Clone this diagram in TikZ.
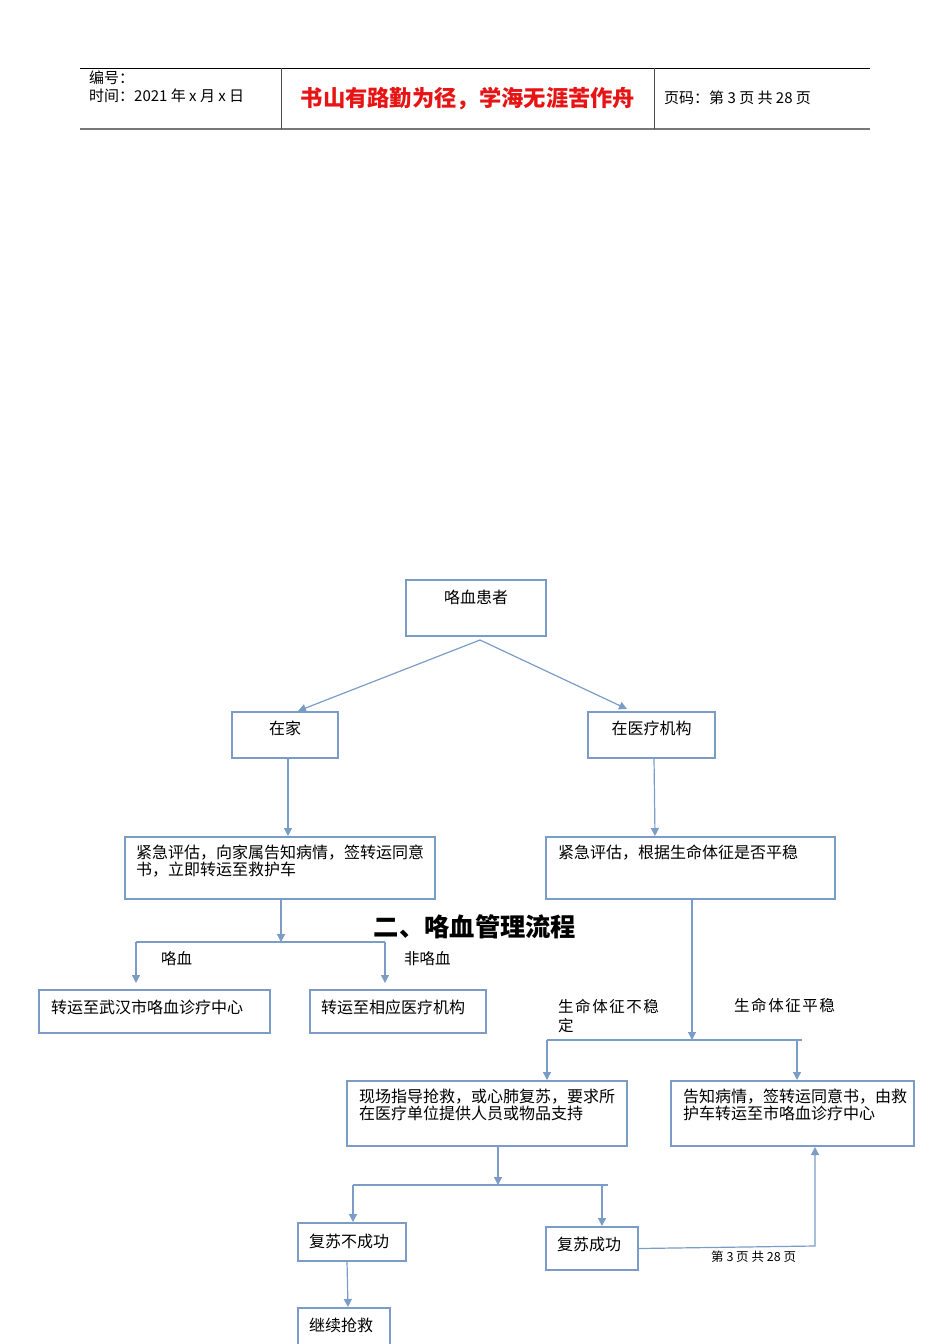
\documentclass[tikz,border=0pt]{standalone}
\usepackage{fontspec}
\newfontfamily\cjk{Noto Sans CJK SC}
\usetikzlibrary{arrows.meta,calc}
\definecolor{lineblue}{RGB}{122,156,198}
\definecolor{hdrgray}{RGB}{120,120,120}
\definecolor{hdrred}{RGB}{230,20,20}
\tikzset{
  box/.style={draw=lineblue, line width=2pt, rectangle, inner sep=0pt},
  conn/.style={draw=lineblue, line width=1.2pt},
  arr/.style={conn, -{Triangle[length=8pt,width=8pt]}},
  txt/.style={inner sep=0pt, anchor=west, font=\cjk\fontsize{16}{17}\selectfont, align=left},
  lbl/.style={inner sep=0pt, anchor=west, font=\cjk\fontsize{15.5}{19}\selectfont, align=left},
  hdr/.style={inner sep=0pt, anchor=west, font=\cjk\fontsize{15}{18}\selectfont},
}
\begin{document}
\begin{tikzpicture}[x=1pt,y=-1pt]
\useasboundingbox (0,0) rectangle (950,1344);
% header
\draw[black, line width=0.8pt] (80,68) -- (870,68);
\draw[hdrgray, line width=2pt] (80,129) -- (870,129);
\draw[black!70, line width=0.8pt] (281,68) -- (281,129);
\draw[black!70, line width=0.8pt] (654,68) -- (654,129);
\node[hdr] (h1) at (89,78) {编号：};
\node[hdr] (h2) at (89,96) {时间：2021 年 x 月 x 日};
\node[inner sep=0pt, text=hdrred, font=\cjk\bfseries\fontsize{22.3}{24}\selectfont] (h3) at (468,99) {书山有路勤为径，学海无涯苦作舟};
\node[hdr] (h4) at (664,98) {页码：第 3 页 共 28 页};

% boxes
\node[box, minimum width=140pt, minimum height=56pt] (p) at (476,608) {};
\node[txt, anchor=center] (pt) at (476,597) {咯血患者};
\node[box, minimum width=106pt, minimum height=46pt] (home) at (285,735) {};
\node[txt, anchor=center] (homet) at (285,728) {在家};
\node[box, minimum width=127pt, minimum height=46pt] (inst) at (651.5,735) {};
\node[txt, anchor=center] (instt) at (651.5,728) {在医疗机构};
\node[box, minimum width=310pt, minimum height=62pt] (evl) at (280,868) {};
\node[txt, anchor=north west] (evlt) at (136,845) {紧急评估，向家属告知病情，签转运同意\\书，立即转运至救护车};
\node[box, minimum width=289pt, minimum height=62pt] (evr) at (690.5,868) {};
\node[txt] (evrt) at (558,853) {紧急评估，根据生命体征是否平稳};
\node[box, minimum width=231pt, minimum height=43pt] (wh) at (154.5,1011.5) {};
\node[txt] (wht) at (51,1007) {转运至武汉市咯血诊疗中心};
\node[box, minimum width=176pt, minimum height=43pt] (oth) at (398,1011.5) {};
\node[txt] (otht) at (321,1007) {转运至相应医疗机构};
\node[box, minimum width=280pt, minimum height=65pt] (resc) at (487,1113.5) {};
\node[txt, anchor=north west] (resct) at (359,1089) {现场指导抢救，或心肺复苏，要求所\\在医疗单位提供人员或物品支持};
\node[box, minimum width=243pt, minimum height=65pt] (tell) at (792.5,1113.5) {};
\node[txt, anchor=north west] (tellt) at (683,1089) {告知病情，签转运同意书，由救\\护车转运至市咯血诊疗中心};
\node[box, minimum width=108pt, minimum height=38pt] (fail) at (352,1242) {};
\node[txt] (failt) at (309,1241) {复苏不成功};
\node[box, minimum width=92pt, minimum height=43pt] (succ) at (592,1248.5) {};
\node[txt] (succt) at (557,1244) {复苏成功};
\node[box, minimum width=92pt, minimum height=40pt] (cont) at (344,1328) {};
\node[txt] (contt) at (309,1325) {继续抢救};

% title and labels
\node[inner sep=0pt, font=\cjk\bfseries\fontsize{25.3}{27}\selectfont] (title) at (475,927) {二、咯血管理流程};
\node[lbl] (l1) at (161,959) {咯血};
\node[lbl] (l2) at (404,959) {非咯血};
\node[lbl, anchor=north west, font=\cjk\fontsize{15.5}{19}\selectfont\addfontfeatures{LetterSpace=10}] (l3) at (558,999) {生命体征不稳\\定};
\node[lbl, font=\cjk\fontsize{15.5}{19}\selectfont\addfontfeatures{LetterSpace=10}] (l4) at (734,1006) {生命体征平稳};
\node[inner sep=0pt, anchor=west, font=\cjk\fontsize{12.5}{14}\selectfont] (foot) at (711,1257) {第 3 页 共 28 页};

% connectors
\coordinate (ps) at (480,640);
\coordinate (homein) at (298,711);
\coordinate (instin) at (627,709);
\draw[arr] (ps) -- (homein);
\draw[arr] (ps) -- (instin);
\draw[arr] (288,758) -- (288,836);
\draw[arr] (654,758) -- (655,836);
% left branch
\coordinate (lj) at (281,942);
\draw[arr] (281,899) -- (lj);
\draw[conn] (136,942) -- (385,942);
\draw[arr] (136,942) -- (136,983);
\draw[arr] (385,942) -- (385,983);
% right branch
\coordinate (rj) at (692,1040);
\draw[arr] (692,899) -- (rj);
\draw[conn] (547,1040) -- (802,1040);
\draw[arr] (547,1040) -- (547,1080);
\draw[arr] (797,1040) -- (797,1080);
% rescue branch
\coordinate (sj) at (498,1185);
\draw[arr] (498,1146) -- (sj);
\draw[conn] (353,1185) -- (608,1185);
\draw[arr] (353,1185) -- (353,1222);
\draw[arr] (602,1185) -- (602,1226);
\draw[arr] (347,1261) -- (348,1307);
\coordinate (corner) at (815,1246);
\coordinate (tellin) at (815,1147);
\draw[arr] (succ.east) -- (corner) -- (tellin);
\end{tikzpicture}
\end{document}
